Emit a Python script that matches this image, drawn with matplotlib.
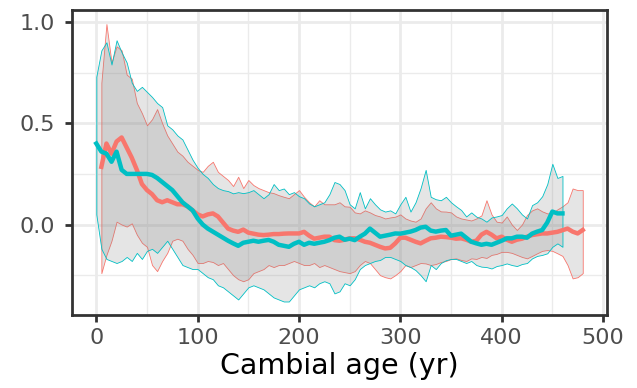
import numpy as np
import matplotlib
matplotlib.use("Agg")
import matplotlib.pyplot as plt

plt.rcParams['font.family'] = ['DejaVu Sans']

# cambial age grids (yr)
age_teal = np.arange(0, 461, 5)
age_red = np.arange(5, 481, 5)

teal_mean = [
    0.40, 0.36, 0.35, 0.31, 0.36, 0.27, 0.25, 0.25, 0.25, 0.25,
    0.25, 0.245, 0.23, 0.21, 0.19, 0.17, 0.14, 0.11, 0.09, 0.07,
    0.03, 0.00, -0.02, -0.035, -0.05, -0.065, -0.08, -0.093, -0.105, -0.09,
    -0.085, -0.08, -0.085, -0.08, -0.076, -0.085, -0.10, -0.105, -0.11, -0.095,
    -0.085, -0.10, -0.09, -0.095, -0.09, -0.085, -0.077, -0.065, -0.06, -0.075,
    -0.07, -0.077, -0.06, -0.045, -0.02, -0.04, -0.06, -0.055, -0.05, -0.044,
    -0.045, -0.04, -0.035, -0.027, -0.015, -0.011, -0.03, -0.035, -0.03, -0.027,
    -0.055, -0.05, -0.045, -0.065, -0.085, -0.093, -0.10, -0.095, -0.10, -0.09,
    -0.08, -0.068, -0.068, -0.06, -0.06, -0.065, -0.045, -0.035, -0.027, 0.01,
    0.064, 0.055, 0.055,
]
teal_hi = [
    0.73, 0.86, 0.90, 0.79, 0.91, 0.85, 0.80, 0.70, 0.66, 0.68,
    0.655, 0.63, 0.60, 0.58, 0.49, 0.47, 0.44, 0.42, 0.37, 0.32,
    0.28, 0.25, 0.23, 0.20, 0.18, 0.17, 0.165, 0.154, 0.16, 0.155,
    0.16, 0.17, 0.15, 0.13, 0.15, 0.20, 0.17, 0.178, 0.15, 0.16,
    0.14, 0.13, 0.104, 0.09, 0.10, 0.11, 0.15, 0.21, 0.20, 0.17,
    0.10, 0.08, 0.16, 0.08, 0.13, 0.10, 0.075, 0.064, 0.07, 0.055,
    0.10, 0.137, 0.064, 0.11, 0.18, 0.27, 0.137, 0.125, 0.12, 0.137,
    0.11, 0.09, 0.072, 0.04, 0.06, 0.039, 0.03, 0.014, 0.035, 0.04,
    0.047, 0.08, 0.104, 0.08, 0.05, 0.03, 0.096, 0.11, 0.14, 0.20,
    0.30, 0.23, 0.24,
]
teal_lo = [
    0.05, -0.12, -0.17, -0.18, -0.19, -0.18, -0.16, -0.18, -0.14, -0.17,
    -0.13, -0.12, -0.14, -0.11, -0.08, -0.12, -0.16, -0.20, -0.21, -0.22,
    -0.22, -0.24, -0.26, -0.27, -0.30, -0.31, -0.33, -0.35, -0.37, -0.34,
    -0.31, -0.30, -0.31, -0.32, -0.34, -0.36, -0.37, -0.38, -0.38, -0.35,
    -0.32, -0.31, -0.30, -0.31, -0.29, -0.28, -0.29, -0.34, -0.33, -0.29,
    -0.30, -0.27, -0.22, -0.20, -0.19, -0.18, -0.175, -0.16, -0.16, -0.17,
    -0.18, -0.20, -0.21, -0.225, -0.25, -0.28, -0.20, -0.22, -0.19, -0.176,
    -0.17, -0.17, -0.18, -0.19, -0.18, -0.20, -0.208, -0.21, -0.217, -0.205,
    -0.20, -0.192, -0.20, -0.205, -0.195, -0.19, -0.167, -0.155, -0.15, -0.142,
    -0.11, -0.093, -0.11,
]

red_mean = [
    0.285, 0.40, 0.35, 0.41, 0.43, 0.38, 0.33, 0.27, 0.20, 0.17,
    0.15, 0.12, 0.11, 0.12, 0.11, 0.10, 0.10, 0.09, 0.07, 0.05,
    0.04, 0.05, 0.055, 0.04, 0.01, -0.02, -0.03, -0.036, -0.025, -0.04,
    -0.045, -0.05, -0.052, -0.05, -0.047, -0.047, -0.045, -0.044, -0.044, -0.044,
    -0.036, -0.055, -0.07, -0.065, -0.06, -0.06, -0.077, -0.08, -0.075, -0.068,
    -0.068, -0.075, -0.085, -0.09, -0.10, -0.11, -0.118, -0.115, -0.093, -0.065,
    -0.065, -0.075, -0.085, -0.093, -0.08, -0.068, -0.065, -0.06, -0.062, -0.065,
    -0.07, -0.068, -0.075, -0.085, -0.08, -0.05, -0.036, -0.05, -0.068, -0.06,
    -0.075, -0.085, -0.075, -0.07, -0.06, -0.052, -0.048, -0.044, -0.044, -0.04,
    -0.036, -0.028, -0.02, -0.035, -0.044, -0.027,
]
red_hi = [
    0.70, 0.99, 0.80, 0.88, 0.86, 0.74, 0.72, 0.60, 0.55, 0.49,
    0.52, 0.57, 0.50, 0.44, 0.40, 0.36, 0.34, 0.31, 0.29, 0.27,
    0.26, 0.29, 0.31, 0.26, 0.24, 0.22, 0.19, 0.236, 0.18, 0.22,
    0.195, 0.18, 0.17, 0.16, 0.155, 0.145, 0.137, 0.13, 0.15, 0.17,
    0.137, 0.11, 0.09, 0.12, 0.10, 0.10, 0.10, 0.11, 0.09, 0.088,
    0.06, 0.055, 0.07, 0.06, 0.047, 0.04, 0.03, 0.035, 0.039, 0.05,
    0.03, 0.02, 0.014, 0.03, 0.08, 0.11, 0.08, 0.065, 0.064, 0.06,
    0.04, 0.03, 0.025, 0.02, 0.03, 0.045, 0.12, 0.05, 0.014, 0.01,
    0.04, 0.00, -0.027, 0.00, 0.047, 0.07, 0.08, 0.065, 0.055, 0.055,
    0.075, 0.09, 0.11, 0.178, 0.17, 0.17,
]
red_lo = [
    -0.24, -0.15, -0.08, 0.014, 0.00, -0.01, 0.006, -0.05, -0.09, -0.11,
    -0.20, -0.23, -0.18, -0.14, -0.08, -0.07, -0.08, -0.12, -0.15, -0.19,
    -0.19, -0.18, -0.185, -0.20, -0.19, -0.22, -0.25, -0.27, -0.28, -0.27,
    -0.24, -0.23, -0.22, -0.20, -0.21, -0.20, -0.20, -0.19, -0.18, -0.19,
    -0.20, -0.20, -0.19, -0.21, -0.20, -0.21, -0.22, -0.23, -0.235, -0.24,
    -0.23, -0.20, -0.18, -0.19, -0.22, -0.25, -0.26, -0.266, -0.25, -0.23,
    -0.20, -0.21, -0.20, -0.19, -0.192, -0.20, -0.195, -0.185, -0.18, -0.17,
    -0.167, -0.175, -0.18, -0.167, -0.17, -0.16, -0.165, -0.15, -0.145, -0.135,
    -0.135, -0.14, -0.15, -0.16, -0.167, -0.155, -0.142, -0.13, -0.126, -0.13,
    -0.142, -0.155, -0.20, -0.266, -0.26, -0.24,
]

RED = '#F8766D'
TEAL = '#00BFC4'
FILL = (0.5, 0.5, 0.5, 0.2)

fig = plt.figure(figsize=(6.37, 3.88), dpi=100)
ax = fig.add_axes([0.113, 0.188, 0.840, 0.786])

# ribbons: grey fill, outline in the series colour
ax.fill_between(age_red, red_lo, red_hi, facecolor=FILL, edgecolor=RED,
                linewidth=0.6, zorder=2)
ax.fill_between(age_teal, teal_lo, teal_hi, facecolor=FILL, edgecolor=TEAL,
                linewidth=0.6, zorder=2)

ax.plot(age_red, red_mean, color=RED, linewidth=3.2, zorder=3,
        solid_joinstyle='round')
ax.plot(age_teal, teal_mean, color=TEAL, linewidth=3.2, zorder=4,
        solid_joinstyle='round')

ax.set_xlim(-24, 504)
ax.set_ylim(-0.447, 1.059)
ax.set_xticks([0, 100, 200, 300, 400, 500])
ax.set_yticks([0.0, 0.5, 1.0])
ax.set_yticklabels(['0.0', '0.5', '1.0'])
ax.set_xticks([50, 150, 250, 350, 450], minor=True)
ax.set_yticks([-0.25, 0.25, 0.75], minor=True)

ax.grid(which='major', color='#ebebeb', linewidth=2.0, zorder=0)
ax.grid(which='minor', color='#ebebeb', linewidth=1.0, zorder=0)
ax.set_axisbelow(True)

for sp in ax.spines.values():
    sp.set_color('#333333')
    sp.set_linewidth(2.0)

ax.tick_params(which='major', direction='out', length=5, width=2.0,
               color='#333333', labelsize=16, labelcolor='#4d4d4d')
ax.tick_params(axis='y', pad=7)
ax.tick_params(axis='x', pad=4)
ax.tick_params(which='minor', length=0)

ax.set_xlabel('Cambial age (yr)', fontsize=20.5, color='black', labelpad=3)

fig.savefig('out.png', dpi=100, facecolor='white')
